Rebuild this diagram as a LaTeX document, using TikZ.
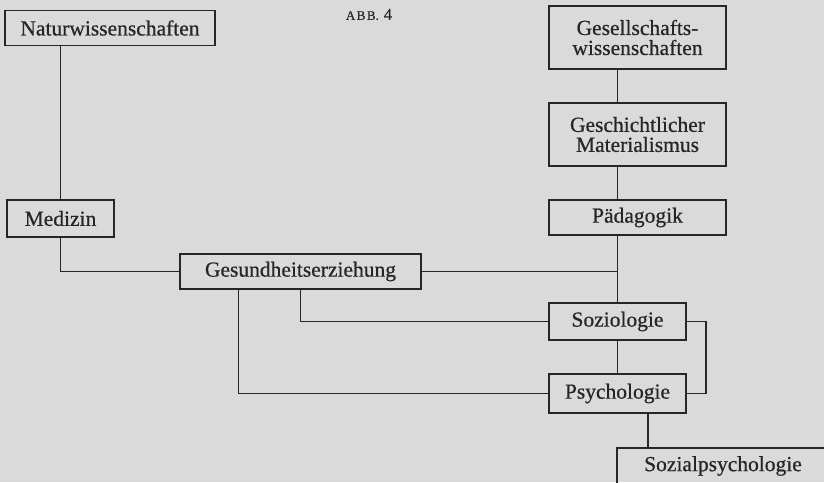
\documentclass[tikz,border=0pt]{standalone}
\usepackage{fontspec}
\setmainfont{Liberation Serif}
\newfontfamily\scanfont{Liberation Serif}[FakeBold=0.6]
\usetikzlibrary{positioning, calc}

\definecolor{paper}{RGB}{218,218,218}
\definecolor{ink}{RGB}{38,38,38}

\begin{document}
\begin{tikzpicture}[
    x=1pt, y=-1pt,
    box/.style={draw=ink, rectangle, line width=1.6pt, inner sep=2pt, align=center,
                text=ink, font=\scanfont\fontsize{21.5}{20}\selectfont},
    link/.style={draw=ink, line width=1.6pt}
]

% Paper
\useasboundingbox (0,0) rectangle (824,482);
\fill[paper] (0,0) rectangle (824,482);
\clip (0,0) rectangle (824,482);

% Boxes
\node[box, minimum width=210pt, minimum height=35pt] (natur) at (110,28) {Naturwissenschaften};
\node[box, minimum width=107pt, minimum height=37pt] (medizin) at (60.5,218.5) {Medizin};
\node[box, minimum width=177pt, minimum height=63pt] (gesell) at (637.5,37.5) {Gesellschafts-\\wissenschaften};
\node[box, minimum width=177pt, minimum height=63pt] (histmat) at (637.5,134.5) {Geschichtlicher\\Materialismus};
\node[box, minimum width=177pt, minimum height=35pt] (paed) at (637.5,217.5) {Pädagogik};
\node[box, minimum width=241pt, minimum height=35pt] (gesund) at (300.5,271.5) {Gesundheitserziehung};
\node[box, minimum width=137pt, minimum height=37pt] (sozio) at (617.5,321.5) {Soziologie};
\node[box, minimum width=137pt, minimum height=39pt] (psycho) at (617.5,393.5) {Psychologie};
\node[box, minimum width=212pt, minimum height=36pt] (sozpsy) at (723,466) {Sozialpsychologie};

% Caption
\node[text=ink, inner sep=0pt, font=\scanfont] (abb) at (369,14.5)
    {{\fontsize{13}{13}\selectfont A\kern1.5pt B\kern1.5pt B.}\kern5pt{\fontsize{16.5}{16}\selectfont 4}};

% Links left
\draw[link] (medizin |- natur.south) -- (medizin.north);
\draw[link] (medizin.south) |- (gesund.west);

% Links right
\draw[link] (gesell.south -| sozio) -- (histmat.north -| sozio);
\draw[link] (histmat.south -| sozio) -- (paed.north -| sozio);
\draw[link] (paed.south -| sozio) -- (sozio.north);
\draw[link] (gesund.east) -- (gesund.east -| sozio);
\draw[link] (gesund.south) |- (sozio.west);
\draw[link] ([xshift=-62pt]gesund.south) |- (psycho.west);
\draw[link] (sozio) -- (psycho);
\draw[link] (sozio.east) -- ++(19,0) |- (psycho.east);
\draw[link] ([xshift=30.5pt]psycho.south) -- ([xshift=30.5pt]psycho.south |- sozpsy.north);

\end{tikzpicture}
\end{document}
